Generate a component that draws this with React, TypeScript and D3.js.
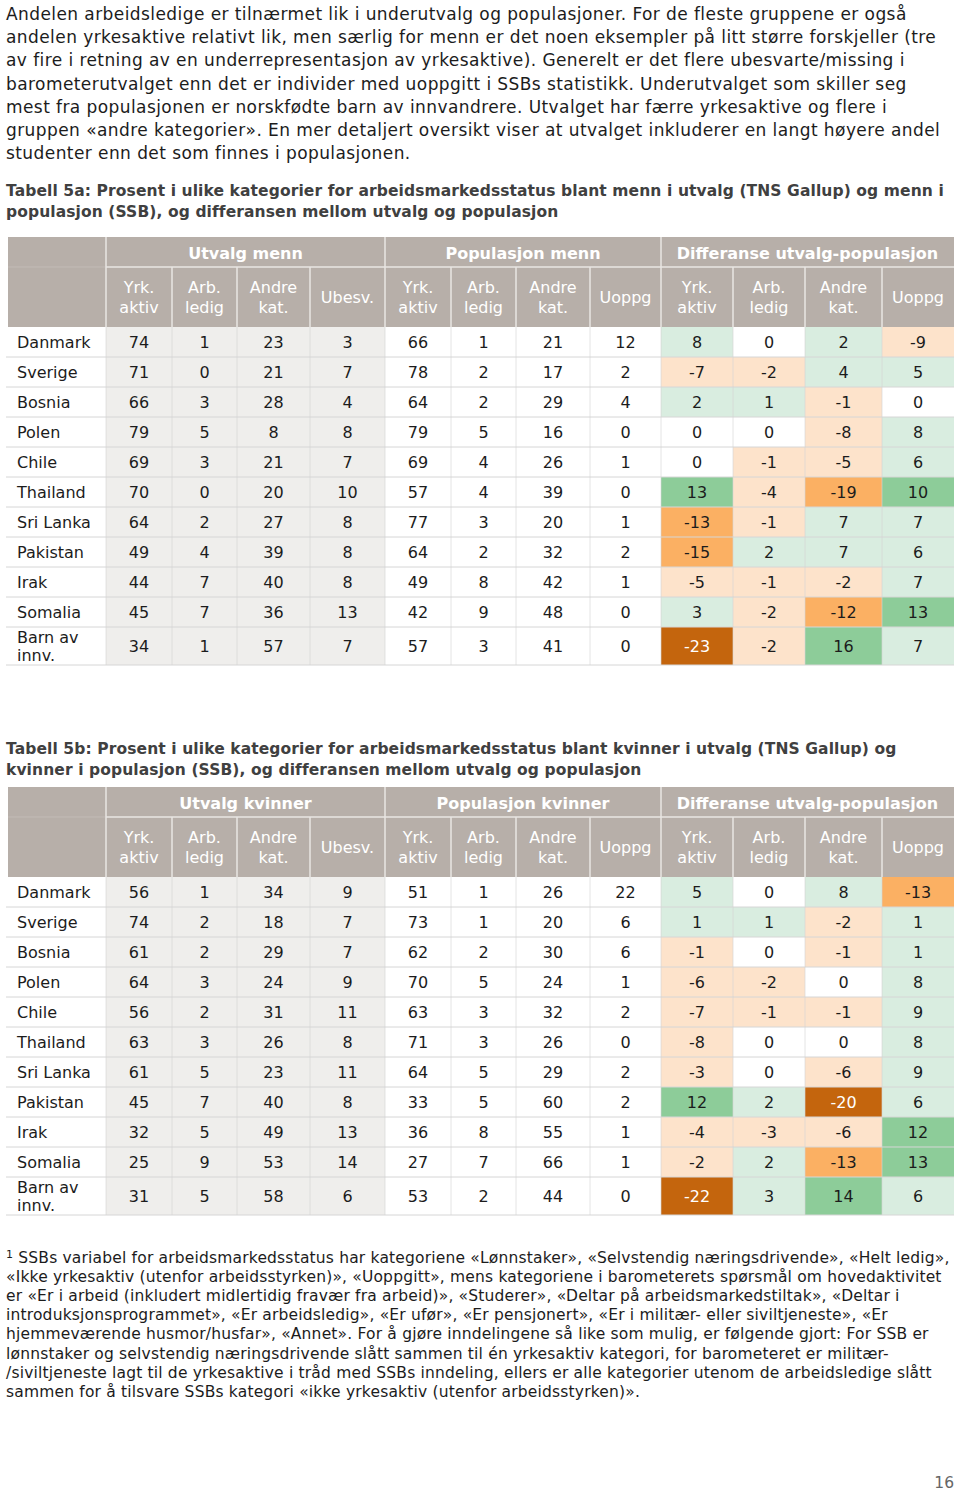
import React from "react";
import * as d3 from "d3";

// ---------- DATA ----------
const countries = ["Danmark", "Sverige", "Bosnia", "Polen", "Chile", "Thailand", "Sri Lanka", "Pakistan", "Irak", "Somalia", "Barn av innv."];

const subHeadersUtvalg = ["Yrk.\naktiv", "Arb.\nledig", "Andre\nkat.", "Ubesv."];
const subHeadersPop = ["Yrk.\naktiv", "Arb.\nledig", "Andre\nkat.", "Uoppg"];
const subHeadersDiff = ["Yrk.\naktiv", "Arb.\nledig", "Andre\nkat.", "Uoppg"];

const menUtvalg = [
  [74, 1, 23, 3], [71, 0, 21, 7], [66, 3, 28, 4], [79, 5, 8, 8], [69, 3, 21, 7], [70, 0, 20, 10],
  [64, 2, 27, 8], [49, 4, 39, 8], [44, 7, 40, 8], [45, 7, 36, 13], [34, 1, 57, 7],
];
const menPop = [
  [66, 1, 21, 12], [78, 2, 17, 2], [64, 2, 29, 4], [79, 5, 16, 0], [69, 4, 26, 1], [57, 4, 39, 0],
  [77, 3, 20, 1], [64, 2, 32, 2], [49, 8, 42, 1], [42, 9, 48, 0], [57, 3, 41, 0],
];
const menDiff = [
  [8, 0, 2, -9], [-7, -2, 4, 5], [2, 1, -1, 0], [0, 0, -8, 8], [0, -1, -5, 6], [13, -4, -19, 10],
  [-13, -1, 7, 7], [-15, 2, 7, 6], [-5, -1, -2, 7], [3, -2, -12, 13], [-23, -2, 16, 7],
];
const womenUtvalg = [
  [56, 1, 34, 9], [74, 2, 18, 7], [61, 2, 29, 7], [64, 3, 24, 9], [56, 2, 31, 11], [63, 3, 26, 8],
  [61, 5, 23, 11], [45, 7, 40, 8], [32, 5, 49, 13], [25, 9, 53, 14], [31, 5, 58, 6],
];
const womenPop = [
  [51, 1, 26, 22], [73, 1, 20, 6], [62, 2, 30, 6], [70, 5, 24, 1], [63, 3, 32, 2], [71, 3, 26, 0],
  [64, 5, 29, 2], [33, 5, 60, 2], [36, 8, 55, 1], [27, 7, 66, 1], [53, 2, 44, 0],
];
const womenDiff = [
  [5, 0, 8, -13], [1, 1, -2, 1], [-1, 0, -1, 1], [-6, -2, 0, 8], [-7, -1, -1, 9], [-8, 0, 0, 8],
  [-3, 0, -6, 9], [12, 2, -20, 6], [-4, -3, -6, 12], [-2, 2, -13, 13], [-22, 3, 14, 6],
];

const introLines = [
  "Andelen arbeidsledige er tilnærmet lik i underutvalg og populasjoner. For de fleste gruppene er også",
  "andelen yrkesaktive relativt lik, men særlig for menn er det noen eksempler på litt større forskjeller (tre",
  "av fire i retning av en underrepresentasjon av yrkesaktive). Generelt er det flere ubesvarte/missing i",
  "barometerutvalget enn det er individer med uoppgitt i SSBs statistikk. Underutvalget som skiller seg",
  "mest fra populasjonen er norskfødte barn av innvandrere. Utvalget har færre yrkesaktive og flere i",
  "gruppen «andre kategorier». En mer detaljert oversikt viser at utvalget inkluderer en langt høyere andel",
  "studenter enn det som finnes i populasjonen.",
];
const title5a = [
  "Tabell 5a: Prosent i ulike kategorier for arbeidsmarkedsstatus blant menn i utvalg (TNS Gallup) og menn i",
  "populasjon (SSB), og differansen mellom utvalg og populasjon",
];
const title5b = [
  "Tabell 5b: Prosent i ulike kategorier for arbeidsmarkedsstatus blant kvinner i utvalg (TNS Gallup) og",
  "kvinner i populasjon (SSB), og differansen mellom utvalg og populasjon",
];
const footLines = [
  " SSBs variabel for arbeidsmarkedsstatus har kategoriene «Lønnstaker», «Selvstendig næringsdrivende», «Helt ledig»,",
  "«Ikke yrkesaktiv (utenfor arbeidsstyrken)», «Uoppgitt», mens kategoriene i barometerets spørsmål om hovedaktivitet",
  "er «Er i arbeid (inkludert midlertidig fravær fra arbeid)», «Studerer», «Deltar på arbeidsmarkedstiltak», «Deltar i",
  "introduksjonsprogrammet», «Er arbeidsledig», «Er ufør», «Er pensjonert», «Er i militær- eller siviltjeneste», «Er",
  "hjemmeværende husmor/husfar», «Annet». For å gjøre inndelingene så like som mulig, er følgende gjort: For SSB er",
  "lønnstaker og selvstendig næringsdrivende slått sammen til én yrkesaktiv kategori, for barometeret er militær-",
  "/siviltjeneste lagt til de yrkesaktive i tråd med SSBs inndeling, ellers er alle kategorier utenom de arbeidsledige slått",
  "sammen for å tilsvare SSBs kategori «ikke yrkesaktiv (utenfor arbeidsstyrken)».",
];

// ---------- STYLE / LAYOUT ----------
const FONT = "Verdana, 'DejaVu Sans', sans-serif";
const HEADER_BG = "#b7afa9";
const UTVALG_BG = "#efeeec";
const GRID = "#d6d6d6";
const TEXT = "#1c1c1c";
const colEdges = [8, 106, 172, 237, 310, 385, 451, 516, 590, 661, 733, 805, 882, 954];

const diffColor = d3
  .scaleThreshold<number, string>()
  .domain([-19.5, -9.5, -0.5, 0.5, 9.5])
  .range(["#c4650d", "#fbb063", "#fde3cb", "#ffffff", "#d9ede0", "#8dcc99"]);

function Table({ top, groups, utvalg, pop, diff }: any) {
  const groupH = 30;
  const subH = 60;
  const rowH = 30;
  const lastH = 38;
  const dataTop = top + groupH + subH;
  const rowY = d3.scaleLinear().domain([0, 1]).range([dataTop, dataTop + rowH]);
  const rowTop = (i: number) => rowY(i);
  const rowHeight = (i: number) => (i === countries.length - 1 ? lastH : rowH);
  const bottom = rowTop(countries.length - 1) + lastH;
  const subHeaders = [...subHeadersUtvalg, ...subHeadersPop, ...subHeadersDiff];
  const cx = (c: number) => (colEdges[c + 1] + colEdges[c + 2]) / 2;

  return (
    <g>
      <rect x={colEdges[0]} y={top} width={colEdges[13] - colEdges[0]} height={groupH + subH} fill={HEADER_BG} />
      <line x1={colEdges[1]} x2={colEdges[13]} y1={top + groupH} y2={top + groupH} stroke="#e9e6e3" strokeWidth={1.5} />
      <line x1={colEdges[0]} x2={colEdges[1]} y1={top + groupH} y2={top + groupH} stroke="#c2bbb6" strokeWidth={1} />
      {[1, 5, 9].map((k) => (
        <line key={"gv" + k} x1={colEdges[k]} x2={colEdges[k]} y1={top} y2={top + groupH + subH} stroke="#e9e6e3" strokeWidth={1.5} />
      ))}
      {colEdges.slice(2, 13).map((x, k) =>
        [3, 7].includes(k) ? null : (
          <line key={"sv" + k} x1={x} x2={x} y1={top + groupH} y2={top + groupH + subH} stroke="#e9e6e3" strokeWidth={1.5} />
        )
      )}
      {groups.map((g: string, gi: number) => (
        <text
          key={g}
          x={(colEdges[1 + gi * 4] + colEdges[5 + gi * 4]) / 2}
          y={top + 22}
          textAnchor="middle"
          fill="#ffffff"
          fontWeight="bold"
          fontSize={16}
          fontFamily={FONT}
        >
          {g}
        </text>
      ))}
      {subHeaders.map((s, c) => {
        const parts = s.split("\n");
        return (
          <text key={"sh" + c} textAnchor="middle" fill="#ffffff" fontSize={16} fontFamily={FONT}>
            {parts.length === 1 ? (
              <tspan x={cx(c)} y={top + groupH + 36}>{parts[0]}</tspan>
            ) : (
              parts.map((p, j) => (
                <tspan key={j} x={cx(c)} y={top + groupH + 26 + j * 20}>{p}</tspan>
              ))
            )}
          </text>
        );
      })}
      {countries.map((name, i) => {
        const y0 = rowTop(i);
        const h = rowHeight(i);
        const vals = [...utvalg[i], ...pop[i], ...diff[i]];
        return (
          <g key={name}>
            <rect x={colEdges[1]} y={y0} width={colEdges[5] - colEdges[1]} height={h} fill={UTVALG_BG} />
            {diff[i].map((v: number, j: number) => (
              <rect key={"d" + j} x={colEdges[9 + j]} y={y0} width={colEdges[10 + j] - colEdges[9 + j]} height={h} fill={diffColor(v)} />
            ))}
            {name.includes(" av ") ? (
              <text fill={TEXT} fontSize={16} fontFamily={FONT}>
                <tspan x={17} y={y0 + 16}>Barn av</tspan>
                <tspan x={17} y={y0 + 34}>innv.</tspan>
              </text>
            ) : (
              <text x={17} y={y0 + h / 2 + 6} fill={TEXT} fontSize={16} fontFamily={FONT}>
                {name}
              </text>
            )}
            {vals.map((v: number, c: number) => (
              <text
                key={"v" + c}
                x={cx(c)}
                y={y0 + h / 2 + 6}
                textAnchor="middle"
                fontSize={16}
                fontFamily={FONT}
                fill={c >= 8 && v <= -20 ? "#ffffff" : TEXT}
              >
                {v}
              </text>
            ))}
          </g>
        );
      })}
      {countries.map((_, i) => (
        <line key={"h" + i} x1={6} x2={colEdges[13]} y1={rowTop(i) + rowHeight(i)} y2={rowTop(i) + rowHeight(i)} stroke={GRID} strokeWidth={1} />
      ))}
      {colEdges.slice(1, 13).map((x, k) => (
        <line key={"v" + k} x1={x} x2={x} y1={dataTop} y2={bottom} stroke={GRID} strokeWidth={0.8} opacity={0.8} />
      ))}
    </g>
  );
}

export default function App() {
  return (
    <div style={{ position: "absolute", left: 0, top: 0, width: 960, height: 1492, background: "#fff" }}>
      <svg width={960} height={1492} viewBox="0 0 960 1492" style={{ display: "block" }}>
        <rect width={960} height={1492} fill="#ffffff" />
        {introLines.map((l, i) => (
          <text key={"in" + i} x={6} y={20 + i * 23.2} fontSize={17} letterSpacing={0.42} fill={TEXT} fontFamily={FONT}>
            {l}
          </text>
        ))}
        {title5a.map((l, i) => (
          <text key={"ta" + i} x={6} y={196 + i * 21} fontSize={15.5} letterSpacing={0.1} fontWeight="bold" fill="#404040" fontFamily={FONT}>
            {l}
          </text>
        ))}
        <Table top={237} groups={["Utvalg menn", "Populasjon menn", "Differanse utvalg-populasjon"]} utvalg={menUtvalg} pop={menPop} diff={menDiff} />
        {title5b.map((l, i) => (
          <text key={"tb" + i} x={6} y={754 + i * 21} fontSize={15.5} letterSpacing={0.1} fontWeight="bold" fill="#404040" fontFamily={FONT}>
            {l}
          </text>
        ))}
        <Table top={787} groups={["Utvalg kvinner", "Populasjon kvinner", "Differanse utvalg-populasjon"]} utvalg={womenUtvalg} pop={womenPop} diff={womenDiff} />
        {footLines.map((l, i) => (
          <text key={"fn" + i} x={6} y={1263 + i * 19.1} fontSize={15.5} letterSpacing={0.18} fill={TEXT} fontFamily={FONT}>
            {i === 0 ? <tspan fontSize={11} dy={-5}>1</tspan> : null}
            {i === 0 ? <tspan dy={5}>{l}</tspan> : l}
          </text>
        ))}
        <text x={954} y={1488} textAnchor="end" fontSize={15.5} fill="#666" fontFamily={FONT}>
          16
        </text>
      </svg>
    </div>
  );
}
